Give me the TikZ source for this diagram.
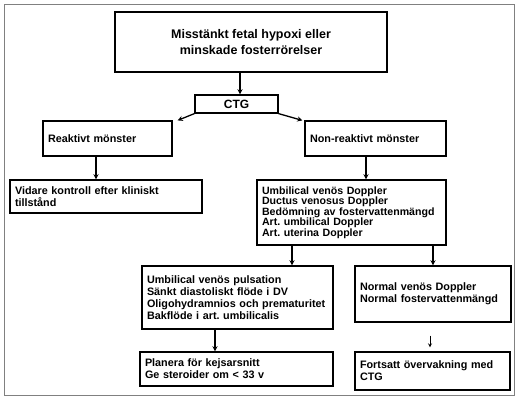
\documentclass[tikz,border=0pt]{standalone}
\usepackage{fontspec}
\setmainfont{Liberation Sans}
\usepackage{tikz}
\usetikzlibrary{positioning, arrows}
\frenchspacing
\tikzstyle{heading} = [rectangle, draw=black, line width=1.2pt, align=center, inner sep=0pt, font=\bfseries\fontsize{12.5}{16}\selectfont]
\tikzstyle{stage} = [rectangle, draw=black, line width=1.2pt, align=left, inner xsep=5pt, inner ysep=0pt, font=\bfseries\fontsize{10.8}{12}\selectfont]
\tikzstyle{arrow} = [line width=1.3pt,->,>=stealth]
\tikzstyle{thinarrow} = [line width=0.8pt,->,>=stealth]

\begin{document}
\begin{tikzpicture}[x=1pt, y=-1pt]
        \useasboundingbox (0,0) rectangle (516,397);
        \draw [gray, line width=1pt] (4,4) rectangle (514,395);

        \node (suspect) [heading, minimum width=272, minimum height=60] at (251,42) {Misstänkt fetal hypoxi eller\\minskade fosterrörelser};
        \node (ctg) [heading, minimum width=83, minimum height=18, font=\bfseries\fontsize{12}{14}\selectfont] at (236.5,104) {CTG};
        \node (reactive) [stage, text width=119, minimum height=35] at (107.5,138.5) {Reaktivt mönster};
        \node (nonreactive) [stage, text width=131, minimum height=35] at (375.5,138.5) {Non-reaktivt mönster};
        \node (followup) [stage, text width=182, minimum height=33] at (106,196.5) {Vidare kontroll efter kliniskt\\tillstånd};
        \node (doppler) [stage, text width=179, minimum height=65, font=\bfseries\fontsize{10.6}{10.5}\selectfont] at (351.5,212.5) {Umbilical venös Doppler\\Ductus venosus Doppler\\Bedömning av fostervattenmängd\\Art. umbilical Doppler\\Art. uterina Doppler};
        \node (pulsation) [stage, text width=181, minimum height=63] at (237.5,297.5) {Umbilical venös pulsation\\Sänkt diastoliskt flöde i DV\\Oligohydramnios och prematuritet\\Bakflöde i art. umbilicalis};
        \node (normal) [stage, text width=146, minimum height=56] at (433,294) {Normal venös Doppler\\Normal fostervattenmängd};
        \node (section) [stage, text width=183, minimum height=34] at (236.5,369) {Planera för kejsarsnitt\\Ge steroider om < 33 v};
        \node (monitor) [stage, text width=145, minimum height=38] at (432.5,371) {Fortsatt övervakning med\\CTG};

        \draw [arrow] ([xshift=-11]suspect.south) -- ([xshift=-11]suspect.south |- ctg.north);
        \draw [arrow] (ctg.south west) -- ([xshift=5]reactive.north east);
        \draw [arrow] (ctg.south east) -- ([xshift=-2]nonreactive.north west);
        \draw [arrow] ([xshift=-11.5]reactive.south) -- ([xshift=-11.5]reactive.south |- followup.north);
        \draw [arrow] ([xshift=-9.5]nonreactive.south) -- ([xshift=-9.5]nonreactive.south |- doppler.north);
        \draw [arrow] ([xshift=54.5]pulsation.north |- doppler.south) -- ([xshift=54.5]pulsation.north);
        \draw [arrow] (normal.north |- doppler.south) -- (normal.north);
        \draw [arrow] ([xshift=-22.5]pulsation.south) -- ([xshift=-22.5]pulsation.south |- section.north);
        \draw [thinarrow] ([xshift=-3,yshift=-13]normal.south) -- ([xshift=-2.5,yshift=4]monitor.north);
\end{tikzpicture}
\end{document}
